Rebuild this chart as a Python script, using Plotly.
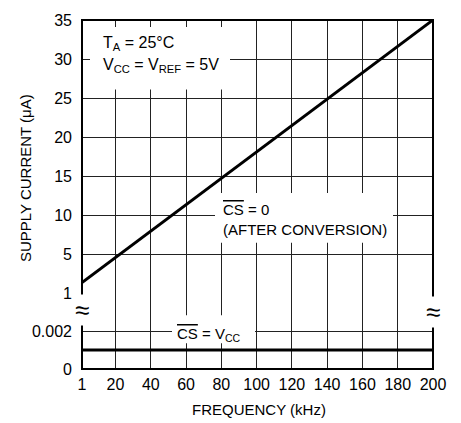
import plotly.graph_objects as go

# ---- data ----
freq_ticks = [1, 20, 40, 60, 80, 100, 120, 140, 160, 180, 200]
freq_labels = [str(v) for v in freq_ticks]
upper_ticks = [0, 5, 10, 15, 20, 25, 30, 35]
upper_labels = ["1", "5", "10", "15", "20", "25", "30", "35"]
lower_ticks = [0, 0.001, 0.002]
lower_labels = ["0", "", "0.002"]

cs0_freq = [1, 200]
cs0_current = [1.4, 35]
csvcc_freq = [1, 200]
csvcc_current = [0.001, 0.001]

FONT = "Liberation Sans, Arial, sans-serif"
L, R, T, B = 82, 28, 18, 54
W, H = 461, 423
PW, PH = W - L - R, H - T - B
lower_frac = 76 / PH

fig = go.Figure()
fig.add_trace(go.Scatter(x=cs0_freq, y=cs0_current, mode="lines",
                         line=dict(color="black", width=3), xaxis="x2", yaxis="y2",
                         showlegend=False, hoverinfo="skip"))
fig.add_trace(go.Scatter(x=csvcc_freq, y=csvcc_current, mode="lines",
                         line=dict(color="black", width=3), xaxis="x", yaxis="y",
                         showlegend=False, hoverinfo="skip"))

grid = dict(showgrid=True, gridcolor="#222", gridwidth=1, zeroline=False,
            showline=False, ticks="", tickfont=dict(size=16))

def px2x(p):
    return (p - L) / PW

def py2p(p):
    return (T + PH - p) / PH

shapes = []
def wbox(x0, x1, y0, y1):
    shapes.append(dict(type="rect", xref="paper", yref="paper",
                       x0=px2x(x0), x1=px2x(x1), y0=py2p(y1), y1=py2p(y0),
                       fillcolor="white", line=dict(width=0), layer="above"))

wbox(90, 230, 25, 88)
wbox(215, 393, 192, 242)
wbox(172, 255, 315, 343)
shapes.append(dict(type="rect", xref="paper", yref="paper", x0=0, x1=1, y0=0, y1=1,
                   line=dict(color="black", width=2), layer="above"))

fig.update_layout(
    width=W, height=H,
    margin=dict(l=L, r=R, t=T, b=B),
    paper_bgcolor="white", plot_bgcolor="white",
    font=dict(family=FONT, size=15, color="black"),
    xaxis=dict(domain=[0, 1], range=[1, 200], tickvals=freq_ticks, ticktext=freq_labels,
               anchor="y", ticklabelstandoff=4, **grid),
    xaxis2=dict(domain=[0, 1], range=[1, 200], tickvals=freq_ticks, matches="x",
                anchor="y2", showticklabels=False, **grid),
    yaxis=dict(domain=[0, lower_frac], range=[0, 0.004], tickvals=lower_ticks,
               ticktext=lower_labels, anchor="x", ticklabelstandoff=9, **grid),
    yaxis2=dict(domain=[lower_frac, 1], range=[0, 35], tickvals=upper_ticks,
                ticktext=upper_labels, anchor="x2", ticklabelstandoff=9, **grid),
    shapes=shapes,
)

ann = []
def text(t, px, py, size=15, xanchor="left", angle=0, bg=None):
    a = dict(text=t, xref="paper", yref="paper", x=px2x(px), y=py2p(py),
             xanchor=xanchor, yanchor="middle", showarrow=False, textangle=angle,
             font=dict(family=FONT, size=size, color="black"))
    if bg:
        a.update(bgcolor=bg, borderpad=0)
    ann.append(a)

text("T<sub>A</sub> = 25°C", 101, 42, size=16)
text("V<sub>CC</sub> = V<sub>REF</sub> = 5V", 101, 64, size=16)
text('<span style="text-decoration:overline">CS</span> = 0', 221, 209)
text("(AFTER CONVERSION)", 221, 229)
text('<span style="text-decoration:overline">CS</span> = V<sub>CC</sub>', 175, 334)
text("≈", L, 310, size=26, xanchor="center", bg="white")
text("≈", L + PW, 312, size=26, xanchor="center", bg="white")
text("FREQUENCY (kHz)", 259, 410, xanchor="center")
text("SUPPLY CURRENT (μA)", 25, 177, xanchor="center", angle=-90)
fig.update_layout(annotations=ann)

fig.write_html("out.html", config={"displayModeBar": False},
               post_script="document.body.style.margin='0';")
